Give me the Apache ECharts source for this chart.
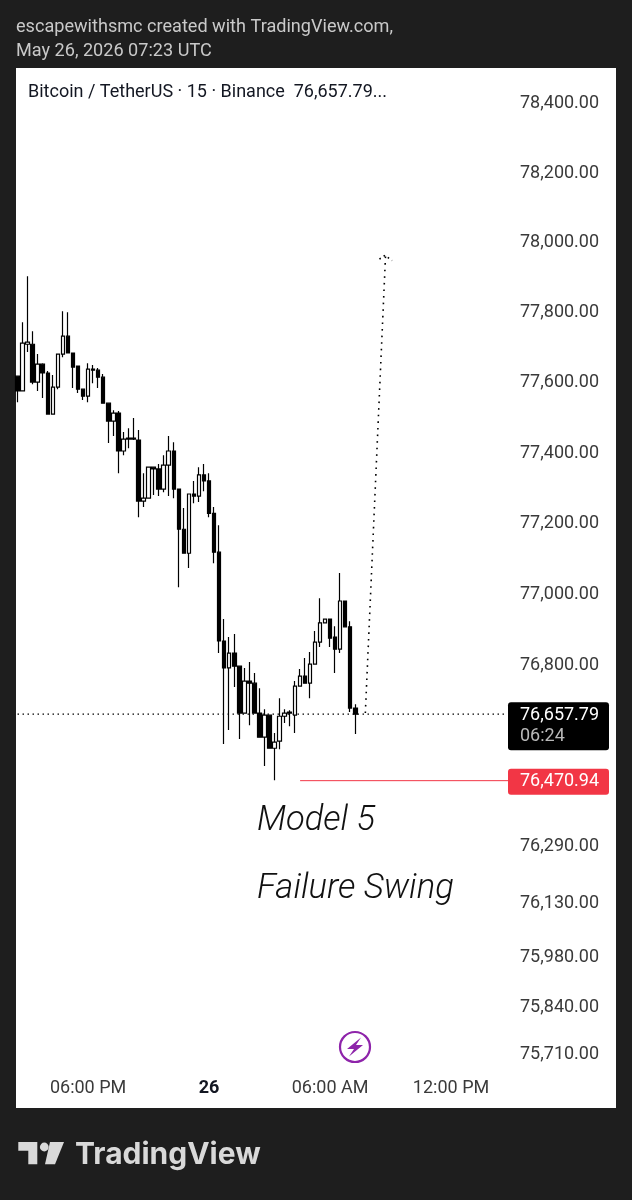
<!DOCTYPE html>
<html><head><meta charset="utf-8">
<style>html,body{margin:0;padding:0;background:#1e1e1e}#c{width:632px;height:1200px}</style>
<script src="https://cdn.jsdelivr.net/npm/echarts@6/dist/echarts.min.js"></script>
</head><body><div id="c"></div>
<script>
const opens=[77615,77573,77706,77706,77598,77649,77624,77507,77584,77678,77729,77681,77644,77578,77558,77635,77632,77612,77538,77487,77510,77402,77436,77439,77433,77260,77268,77356,77351,77294,77362,77402,77294,77180,77112,77280,77274,77334,77317,77225,77115,76864,76788,76830,76793,76661,76751,76745,76661,76593,76655,76562,76582,76652,76661,76655,76737,76765,76745,76799,76861,76915,76926,76875,76841,76977,76904,76675];
const closes=[77573,77709,77712,77598,77649,77624,77507,77584,77678,77729,77681,77641,77578,77558,77635,77632,77612,77538,77487,77510,77402,77436,77439,77436,77260,77268,77356,77351,77294,77362,77402,77294,77180,77112,77280,77274,77334,77317,77225,77115,76864,76788,76830,76793,76661,76751,76745,76661,76593,76655,76562,76579,76652,76661,76664,76737,76765,76745,76799,76861,76915,76926,76872,76841,76977,76904,76675,76657.79];
const lows=[77541,77573,77684,77592,77573,77553,77507,77507,77578,77669,77681,77581,77567,77547,77541,77595,77581,77538,77425,77445,77339,77390,77410,77433,77214,77243,77268,77277,77274,77285,77274,77268,77016,77112,77070,77254,77257,77288,77214,77084,76830,76574,76613,76734,76588,76661,76627,76661,76593,76512,76562,76472,76559,76633,76624,76605,76737,76745,76703,76799,76847,76915,76847,76774,76830,76904,76664,76602];
const highs=[77615,77769,77900,77743,77678,77652,77630,77618,77678,77800,77797,77681,77644,77578,77652,77647,77638,77621,77538,77518,77516,77456,77467,77496,77462,77339,77356,77356,77365,77390,77445,77427,77294,77240,77280,77317,77356,77365,77339,77243,77191,76926,76875,76884,76793,76788,76805,76774,76731,76672,76655,76605,76703,76672,76669,76751,76785,76816,76833,76892,76985,76926,76926,76906,77056,76977,76920,76686];
const priceTicks=[78400,78200,78000,77800,77600,77400,77200,77000,76800,76290,76130,75980,75840,75710];
const timeTicks={'18:00':'06:00 PM','00:00':'{b|26}','06:00':'06:00 AM','12:00':'12:00 PM'};
const lastPrice=76657.79, alertPrice=76470.94;
const projX=[69,73], projY=[76661,77957];
const headX=[71.8,72.9,74.3], headY=[77949,77960,77945];
const alertX=[56.06,97.5];
const barSlots=98;
const times=[];
for(let i=0,m=14*60+30;i<barSlots;i++,m+=15){const t=m%1440;times.push(String(Math.floor(t/60)).padStart(2,'0')+':'+String(t%60).padStart(2,'0'));}
const ohlc=opens.map((o,i)=>[o,closes[i],lows[i],highs[i]]);
const F='Roboto, sans-serif';
const chart=echarts.init(document.getElementById('c'),null,{renderer:'canvas'});
const G={left:15,top:68,width:494,height:1002};
chart.setOption({
 animation:false,backgroundColor:'#1e1e1e',
 grid:G,
 xAxis:[
  {type:'category',data:times,boundaryGap:true,axisLine:{show:false},axisTick:{show:false},splitLine:{show:false},
   axisLabel:{interval:(i,v)=>v in timeTicks,hideOverlap:false,formatter:v=>timeTicks[v]||'',color:'#3a3a3a',fontFamily:F,fontSize:18,margin:9,
    rich:{b:{fontFamily:F,fontSize:18,fontWeight:'bold',color:'#131722'}}}},
  {type:'value',min:-0.5,max:barSlots-0.5,show:false}
 ],
 yAxis:{type:'log',logBase:10,min:75663,max:78498,position:'right',axisLine:{show:false},axisTick:{show:false},splitLine:{show:false},
  axisLabel:{customValues:priceTicks,margin:11,align:'left',verticalAlign:'top',lineHeight:3,color:'#3a3a3a',fontFamily:F,fontSize:18,
   formatter:v=>Number(v).toLocaleString('en-US',{minimumFractionDigits:2,maximumFractionDigits:2})}},
 series:[
  {type:'candlestick',data:ohlc,barWidth:4,xAxisIndex:0,z:3,clip:false,
   itemStyle:{color:'#ffffff',color0:'#000000',borderColor:'#000000',borderColor0:'#000000',borderWidth:1.2}},
  {type:'line',xAxisIndex:0,data:times.map(()=>lastPrice),symbol:'none',silent:true,z:2,
   lineStyle:{color:'#000000',width:1.2,type:[1.5,3.5]}},
  {type:'line',xAxisIndex:1,data:alertX.map(x=>[x,alertPrice]),symbol:'none',silent:true,z:2,
   lineStyle:{color:'#f23645',width:1}},
  {type:'line',xAxisIndex:1,data:projX.map((x,i)=>[x,projY[i]]),symbol:'none',silent:true,z:2,
   lineStyle:{color:'#000000',width:1.6,type:[1.6,5]}},
  {type:'line',xAxisIndex:1,data:headX.map((x,i)=>[x,headY[i]]),symbol:'none',silent:true,z:2,
   lineStyle:{color:'#000000',width:1.6,type:[1.6,3.5]}}
 ]
});
const lastY=chart.convertToPixel({yAxisIndex:0},lastPrice), alertY=chart.convertToPixel({yAxisIndex:0},alertPrice);
const fmt=v=>v.toLocaleString('en-US',{minimumFractionDigits:2,maximumFractionDigits:2});
chart.setOption({graphic:{elements:[
 {type:'rect',z:-10,zlevel:-1,shape:{x:16,y:68,width:600,height:1040},style:{fill:'#ffffff'}},
 {type:'text',x:16,y:27,style:{text:'escapewithsmc created with TradingView.com,',fill:'#c9c9c9',font:'18.1px '+F,textVerticalAlign:'middle'}},
 {type:'text',x:16,y:51,style:{text:'May 26, 2026 07:23 UTC',fill:'#c9c9c9',font:'18.1px '+F,textVerticalAlign:'middle'}},
 {type:'text',x:28,y:92,z:20,style:{text:'Bitcoin / TetherUS · 15 · Binance  76,657.79...',fill:'#131722',font:'18px '+F,textVerticalAlign:'middle'}},
 {type:'rect',z:20,shape:{x:508,y:lastY-12,width:101,height:48,r:3},style:{fill:'#000000'}},
 {type:'text',z:21,x:520,y:lastY+1,style:{text:fmt(lastPrice),fill:'#ffffff',font:'18px '+F,textVerticalAlign:'middle'}},
 {type:'text',z:21,x:520,y:lastY+22,style:{text:'06:24',fill:'#b8b8b8',font:'18px '+F,textVerticalAlign:'middle'}},
 {type:'rect',z:20,shape:{x:508,y:alertY-12,width:101,height:26,r:3},style:{fill:'#f23645'}},
 {type:'text',z:21,x:520,y:alertY+1,style:{text:fmt(alertPrice),fill:'#ffffff',font:'18px '+F,textVerticalAlign:'middle'}},
 {type:'text',z:20,x:257,y:821,style:{text:'Model 5',fill:'#111111',font:'italic 300 34.5px '+F,textVerticalAlign:'middle'}},
 {type:'text',z:20,x:257,y:889,style:{text:'Failure Swing',fill:'#111111',font:'italic 300 34.7px '+F,textVerticalAlign:'middle'}},
 {type:'circle',z:20,shape:{cx:355,cy:1047,r:15},style:{fill:'none',stroke:'#8e24aa',lineWidth:2.2}},
 {type:'polygon',z:20,shape:{points:[[361,1037.5],[347,1049],[354,1049],[349,1056.5],[363,1045],[356,1045]]},style:{fill:'#8e24aa'}},
 {type:'polygon',shape:{points:[[18.3,1142],[37.3,1142],[37.3,1164.3],[28.3,1164.3],[28.3,1150.7],[18.3,1150.7]]},style:{fill:'#d9d9d9'}},
 {type:'circle',shape:{cx:44.3,cy:1147,r:4.4},style:{fill:'#d9d9d9'}},
 {type:'polygon',shape:{points:[[50,1142],[64,1142],[55,1164.3],[45,1164.3]]},style:{fill:'#d9d9d9'}},
 {type:'text',x:75,y:1155,style:{text:'TradingView',fill:'#d9d9d9',font:'700 30px Inter, sans-serif',textVerticalAlign:'middle'}}
]}});
</script></body></html>
